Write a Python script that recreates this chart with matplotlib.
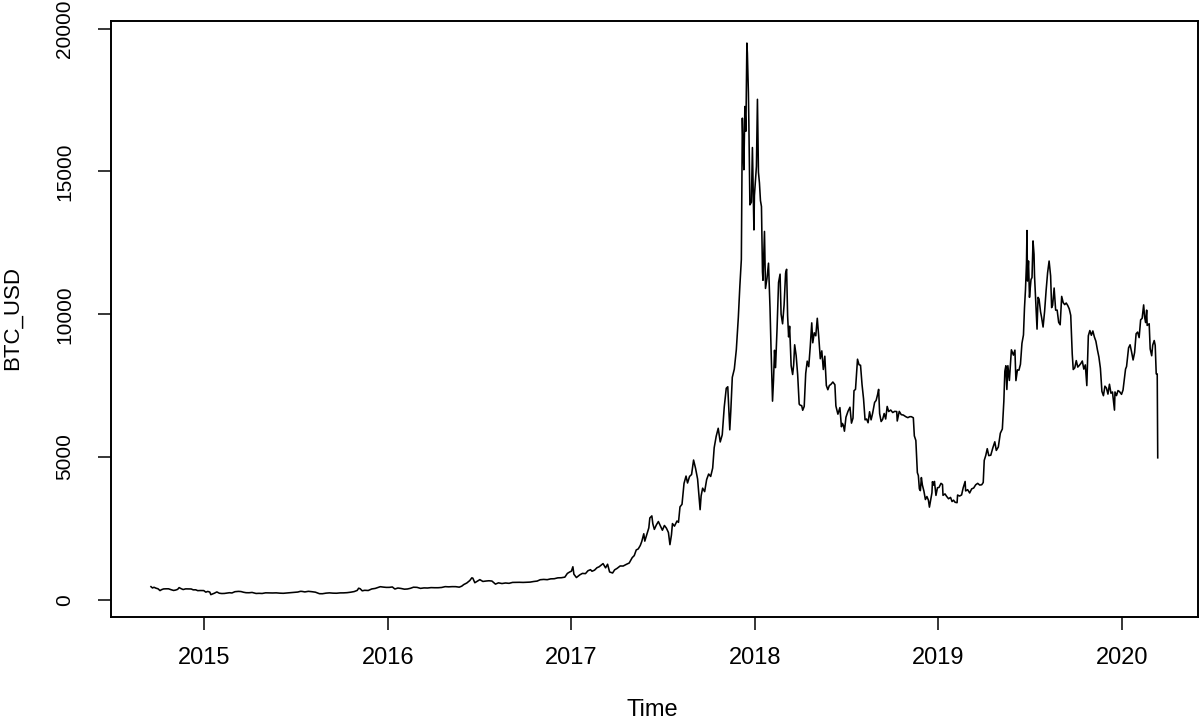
import matplotlib
matplotlib.use("Agg")
import matplotlib.pyplot as plt
import pandas as pd
import numpy as np

dates = [
"2014-09-17","2014-09-20","2014-09-23","2014-09-27","2014-10-01","2014-10-05","2014-10-08","2014-10-12",
"2014-10-17","2014-10-22","2014-10-27","2014-11-01","2014-11-05","2014-11-09","2014-11-12","2014-11-16",
"2014-11-20","2014-11-25","2014-12-01","2014-12-06","2014-12-10","2014-12-15","2014-12-19","2014-12-24","2014-12-31",
"2015-01-04","2015-01-08","2015-01-12","2015-01-14","2015-01-17","2015-01-21","2015-01-26","2015-01-31",
"2015-02-05","2015-02-10","2015-02-15","2015-02-20","2015-02-25","2015-03-03","2015-03-10","2015-03-15",
"2015-03-20","2015-03-25","2015-03-31","2015-04-06","2015-04-14","2015-04-20","2015-04-26","2015-05-03",
"2015-05-10","2015-05-17","2015-05-24","2015-05-31","2015-06-07","2015-06-15","2015-06-22","2015-06-29",
"2015-07-06","2015-07-11","2015-07-14","2015-07-20","2015-07-27","2015-08-03","2015-08-10","2015-08-18",
"2015-08-24","2015-08-31","2015-09-07","2015-09-14","2015-09-21","2015-09-28","2015-10-05","2015-10-12",
"2015-10-19","2015-10-26","2015-11-01","2015-11-04","2015-11-07","2015-11-11","2015-11-16","2015-11-23",
"2015-11-30","2015-12-07","2015-12-13","2015-12-17","2015-12-23","2015-12-29",
"2016-01-04","2016-01-10","2016-01-15","2016-01-21","2016-01-27","2016-02-03","2016-02-09","2016-02-15",
"2016-02-21","2016-02-28","2016-03-06","2016-03-13","2016-03-20","2016-03-27","2016-04-03","2016-04-10",
"2016-04-17","2016-04-24","2016-05-01","2016-05-08","2016-05-15","2016-05-22","2016-05-27","2016-05-31",
"2016-06-06","2016-06-12","2016-06-16","2016-06-18","2016-06-22","2016-06-27","2016-07-02","2016-07-08",
"2016-07-14","2016-07-20","2016-07-26","2016-08-02","2016-08-08","2016-08-15","2016-08-22","2016-08-29",
"2016-09-05","2016-09-12","2016-09-19","2016-09-26","2016-10-03","2016-10-10","2016-10-17","2016-10-24",
"2016-10-30","2016-11-06","2016-11-13","2016-11-20","2016-11-27","2016-12-04","2016-12-11","2016-12-18",
"2016-12-23","2016-12-28",
"2017-01-01","2017-01-04","2017-01-06","2017-01-11","2017-01-14","2017-01-18","2017-01-23","2017-01-29",
"2017-02-03","2017-02-08","2017-02-11","2017-02-16","2017-02-21","2017-02-25","2017-03-02","2017-03-05",
"2017-03-10","2017-03-14","2017-03-18","2017-03-24","2017-03-28","2017-04-02","2017-04-08","2017-04-14",
"2017-04-20","2017-04-26","2017-05-02","2017-05-06","2017-05-10","2017-05-14","2017-05-18","2017-05-21",
"2017-05-25","2017-05-27","2017-05-31","2017-06-04","2017-06-06","2017-06-10","2017-06-12","2017-06-15",
"2017-06-19","2017-06-23","2017-06-27","2017-07-01","2017-07-05","2017-07-09","2017-07-13","2017-07-16",
"2017-07-19","2017-07-21","2017-07-25","2017-07-30","2017-08-02","2017-08-05","2017-08-09","2017-08-13",
"2017-08-17","2017-08-20","2017-08-24","2017-08-28","2017-09-01","2017-09-05","2017-09-09","2017-09-14",
"2017-09-16","2017-09-19","2017-09-23","2017-09-27","2017-10-01","2017-10-05","2017-10-09","2017-10-12",
"2017-10-16","2017-10-20","2017-10-24","2017-10-28","2017-11-01","2017-11-05","2017-11-08","2017-11-12",
"2017-11-14","2017-11-17","2017-11-21","2017-11-25","2017-11-29","2017-12-02","2017-12-05","2017-12-07",
"2017-12-08","2017-12-10","2017-12-12","2017-12-14","2017-12-16","2017-12-17","2017-12-19","2017-12-20",
"2017-12-22","2017-12-25","2017-12-27","2017-12-30","2017-12-31",
"2018-01-04","2018-01-06","2018-01-08","2018-01-10","2018-01-12","2018-01-14","2018-01-16","2018-01-17",
"2018-01-20","2018-01-22","2018-01-25","2018-01-28","2018-01-31","2018-02-02","2018-02-05","2018-02-07",
"2018-02-09","2018-02-11","2018-02-14","2018-02-17","2018-02-20","2018-02-22","2018-02-25","2018-02-28",
"2018-03-03","2018-03-05","2018-03-07","2018-03-09","2018-03-11","2018-03-14","2018-03-17","2018-03-19",
"2018-03-21","2018-03-24","2018-03-27","2018-03-30","2018-04-01","2018-04-04","2018-04-06","2018-04-09",
"2018-04-12","2018-04-15","2018-04-18","2018-04-21","2018-04-24","2018-04-26","2018-04-29","2018-05-02",
"2018-05-05","2018-05-08","2018-05-11","2018-05-14","2018-05-17","2018-05-20","2018-05-23","2018-05-26",
"2018-05-29","2018-06-01","2018-06-05","2018-06-09","2018-06-11","2018-06-15","2018-06-19","2018-06-22",
"2018-06-24","2018-06-26","2018-06-28","2018-07-01","2018-07-05","2018-07-09","2018-07-12","2018-07-15",
"2018-07-17","2018-07-20","2018-07-24","2018-07-27","2018-07-30","2018-08-02","2018-08-05","2018-08-08",
"2018-08-11","2018-08-14","2018-08-17","2018-08-20","2018-08-23","2018-08-27","2018-08-30","2018-09-02",
"2018-09-04","2018-09-06","2018-09-09","2018-09-12","2018-09-15","2018-09-18","2018-09-21","2018-09-24",
"2018-09-28","2018-10-02","2018-10-06","2018-10-10","2018-10-11","2018-10-15","2018-10-19","2018-10-23",
"2018-10-28","2018-11-01","2018-11-05","2018-11-08","2018-11-12","2018-11-14","2018-11-17","2018-11-19",
"2018-11-20","2018-11-22","2018-11-24","2018-11-26","2018-11-28","2018-11-30","2018-12-03","2018-12-06",
"2018-12-09","2018-12-12","2018-12-14","2018-12-17","2018-12-19","2018-12-20","2018-12-22","2018-12-24",
"2018-12-27","2018-12-30",
"2019-01-02","2019-01-06","2019-01-09","2019-01-10","2019-01-14","2019-01-17","2019-01-21","2019-01-25",
"2019-01-28","2019-01-31","2019-02-03","2019-02-07","2019-02-08","2019-02-12","2019-02-16","2019-02-19",
"2019-02-23","2019-02-24","2019-02-28","2019-03-04","2019-03-08","2019-03-12","2019-03-16","2019-03-20",
"2019-03-24","2019-03-28","2019-03-31","2019-04-02","2019-04-05","2019-04-08","2019-04-11","2019-04-15",
"2019-04-19","2019-04-23","2019-04-26","2019-04-30","2019-05-04","2019-05-08","2019-05-11","2019-05-13",
"2019-05-15","2019-05-17","2019-05-19","2019-05-22","2019-05-26","2019-05-30","2019-06-02","2019-06-04",
"2019-06-07","2019-06-10","2019-06-13","2019-06-16","2019-06-19","2019-06-21","2019-06-23","2019-06-25",
"2019-06-26","2019-06-27","2019-06-29","2019-07-01","2019-07-02","2019-07-04","2019-07-06","2019-07-08",
"2019-07-10","2019-07-11","2019-07-14","2019-07-16","2019-07-18","2019-07-20","2019-07-23","2019-07-25",
"2019-07-28","2019-07-31","2019-08-03","2019-08-06","2019-08-09","2019-08-12","2019-08-14","2019-08-16",
"2019-08-19","2019-08-22","2019-08-25","2019-08-28","2019-08-31","2019-09-03","2019-09-06","2019-09-09",
"2019-09-12","2019-09-15","2019-09-18","2019-09-21","2019-09-24","2019-09-26","2019-09-29","2019-10-02",
"2019-10-05","2019-10-08","2019-10-11","2019-10-14","2019-10-17","2019-10-20","2019-10-23","2019-10-25",
"2019-10-26","2019-10-29","2019-11-01","2019-11-04","2019-11-07","2019-11-10","2019-11-13","2019-11-16",
"2019-11-19","2019-11-22","2019-11-25","2019-11-28","2019-12-01","2019-12-04","2019-12-07","2019-12-10",
"2019-12-13","2019-12-17","2019-12-18","2019-12-21","2019-12-24","2019-12-27","2019-12-31",
"2020-01-03","2020-01-06","2020-01-08","2020-01-10","2020-01-14","2020-01-17","2020-01-20","2020-01-23",
"2020-01-26","2020-01-29","2020-02-01","2020-02-04","2020-02-07","2020-02-10","2020-02-13","2020-02-15",
"2020-02-17","2020-02-19","2020-02-20","2020-02-24","2020-02-26","2020-02-29","2020-03-02","2020-03-05",
"2020-03-07","2020-03-09","2020-03-11","2020-03-12",
]

btc_usd = [
457,412,436,404,383,320,352,378,
382,382,351,325,338,363,424,387,
357,380,379,376,346,347,318,322,320,
265,290,267,178,200,227,273,227,
217,220,234,245,237,281,292,286,
262,246,244,255,219,224,219,241,
239,236,240,230,225,237,247,257,
269,293,292,273,294,281,264,211,
210,230,240,230,227,239,240,247,
263,285,325,403,385,312,330,323,
377,396,434,456,442,432,
433,447,375,410,395,369,376,400,
438,433,397,414,410,424,420,420,
429,458,451,458,457,440,475,531,
585,672,766,756,595,647,703,640,
654,664,654,547,591,567,586,574,
606,608,610,606,610,617,638,653,
700,711,702,731,735,766,770,791,
921,975,
998,1154,894,777,818,874,922,914,
1015,1052,997,1035,1122,1152,1222,1265,
1116,1243,972,936,1046,1099,1182,1180,
1236,1286,1475,1545,1743,1780,1900,2041,
2310,2052,2286,2517,2863,2936,2659,2464,
2620,2738,2590,2434,2601,2506,2354,1929,
2271,2667,2576,2757,2710,3252,3342,4073,
4331,4088,4318,4384,4892,4597,4226,3154,
3637,3907,3786,4209,4403,4318,4612,5325,
5725,6005,5526,5777,6750,7407,7459,5950,
6598,7790,8077,8754,9888,10976,11916,16867,
16181,15059,17276,16409,19497,19140,17776,16624,
13831,13925,15838,12952,14157,
15180,17527,14973,14596,13980,13772,11490,11188,
12899,10903,11256,11787,10221,8830,6955,7701,
8736,8129,9494,11112,11403,10005,9664,10326,
11440,11573,9953,9205,9578,8198,7889,8223,
8929,8547,7876,6853,6813,6797,6636,6771,
7927,8356,8163,8865,9697,8999,9348,9244,
9858,9188,8441,8716,8064,8529,7505,7355,
7502,7541,7625,7531,6786,6499,6729,6059,
6174,6101,5903,6391,6597,6742,6185,6360,
7321,7368,8424,8230,8212,7536,7037,6300,
6330,6198,6584,6300,6526,6911,6979,7190,
7367,6517,6241,6318,6522,6330,6769,6591,
6644,6556,6597,6590,6260,6596,6481,6469,
6411,6377,6411,6411,6373,5738,5578,4871,
4451,4348,3880,3821,4278,4017,3807,3509,
3614,3486,3243,3546,3745,4134,4014,4143,
3654,3923,
3931,4076,4036,3657,3706,3625,3536,3583,
3439,3487,3413,3399,3667,3631,3671,3911,
4142,3810,3854,3739,3882,3913,4025,4076,
4015,4027,4106,4880,5051,5290,5047,5061,
5314,5531,5229,5350,5831,5980,6956,8004,
8194,7363,8197,7680,8753,8567,8742,7674,
8052,8040,8247,8980,9274,10209,10855,11778,
12932,11162,11865,10591,10818,11215,11283,12567,
12100,11343,10256,9478,10590,10530,10083,9895,
9551,10093,10821,11451,11862,11341,10231,10311,
10917,10142,10144,9716,9630,10624,10405,10336,
10392,10306,10188,9960,8603,8063,8120,8375,
8148,8206,8273,8361,8078,8225,7500,8660,
9244,9428,9262,9413,9204,9055,8759,8500,
8106,7297,7146,7480,7414,7201,7547,7232,
7275,6641,7277,7150,7326,7290,7193,
7345,7770,8079,8167,8821,8929,8680,8397,
8658,9316,9374,9180,9803,9856,10326,9889,
9707,10143,9608,9665,8785,8545,8915,9078,
8909,7911,7909,4970,
]

year_ticks = [2015, 2016, 2017, 2018, 2019, 2020]
value_ticks = [0, 5000, 10000, 15000, 20000]

d = pd.to_datetime(pd.Series(dates))
t = d.dt.year + (d.dt.dayofyear - 1) / 365.0
y = np.array(btc_usd, dtype=float)

plt.rcParams['font.family'] = ['Liberation Sans', 'DejaVu Sans']

W, H = 1200, 719
fig = plt.figure(figsize=(W / 100, H / 100), dpi=100)
ax = fig.add_axes([110.7 / W, 1 - 616.7 / H, (1198 - 110.7) / W, (616.7 - 21) / H])
ax.plot(t, y, color='black', linewidth=1.15)

xr = t.max() - t.min()
ax.set_xlim(t.min() - 0.04 * xr, t.max() + 0.04 * xr)
yr = y.max() - y.min()
ax.set_ylim(y.min() - 0.04 * yr, y.max() + 0.04 * yr)

ax.set_xticks(year_ticks)
ax.set_xticklabels([str(v) for v in year_ticks])
ax.set_yticks(value_ticks)
ax.set_yticklabels([str(v) for v in value_ticks], rotation=90, va='center')

for s in ax.spines.values():
    s.set_linewidth(1.4)
    s.set_color('black')
ax.tick_params(axis='both', direction='out', length=9.5, width=1.1, color='black')
ax.tick_params(axis='x', pad=12, labelsize=17)
ax.tick_params(axis='y', pad=17, labelsize=15)

fig.text(652 / W, 1 - 710 / H, 'Time', ha='center', va='center', fontsize=17)
fig.text(12 / W, 1 - 318 / H, 'BTC_USD', ha='center', va='center', rotation=90, fontsize=16)

fig.savefig('out.png', dpi=100)
